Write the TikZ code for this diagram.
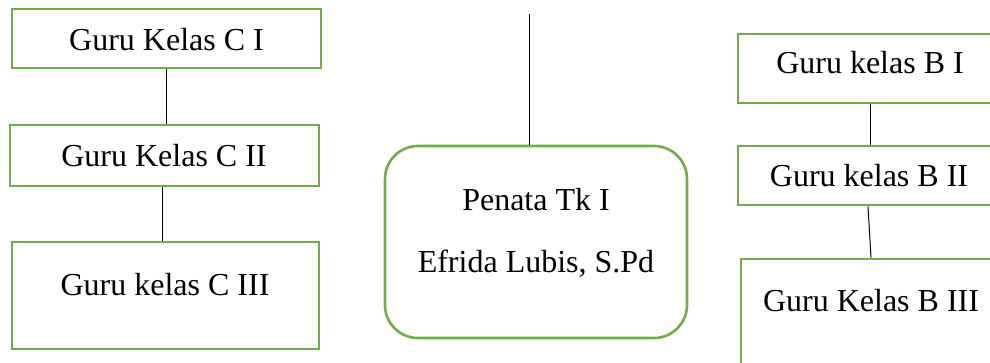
\documentclass[tikz,border=0pt]{standalone}
\usepackage{fontspec}
\setmainfont{Liberation Serif}
\definecolor{boxgreen}{HTML}{70AD47}
\begin{document}
\begin{tikzpicture}[x=1pt,y=-1pt,
  box/.style={draw=boxgreen,line width=2.6pt,minimum width=#1,inner sep=0pt},
  lbl/.style={anchor=base,font=\fontsize{32}{38}\selectfont,inner sep=0pt},
  link/.style={draw=black,line width=1pt}]
\useasboundingbox (0,0) rectangle (990,362);
\begin{scope}
\clip (0,0) rectangle (990,362);
% left column: class C teachers
\node[box=309pt,minimum height=59pt] (ci) at (166.5,38.5) {};
\node[box=309pt,minimum height=61pt] (cii) at (164.5,155.5) {};
\node[box=307pt,minimum height=107pt] (ciii) at (165.5,295.5) {};
\node[lbl] (tci) at (166.5,50) {Guru Kelas C I};
\node[lbl] (tcii) at (164,166) {Guru Kelas C II};
\node[lbl] (tciii) at (165,295) {Guru kelas C III};
\draw[link] (ci.south) -- (ci.south |- cii.north);
\draw[link] ([xshift=-2.5pt]cii.south) -- ([xshift=-2.5pt]cii.south |- ciii.north);
% centre: head of the group
\node[box=302pt,minimum height=192pt,rounded corners=33pt] (head) at (536,242) {};
\node[lbl] (thead1) at (536,210) {Penata Tk I};
\node[lbl] (thead2) at (536,272) {Efrida Lubis, S.Pd};
\coordinate (top) at (529,14);
\draw[link] (top) -- (top |- head.north);
% right column: class B teachers
\node[box=264pt,minimum height=69pt] (bi) at (870,68.5) {};
\node[box=264pt,minimum height=59pt] (bii) at (870,175.5) {};
\node[box=261pt,minimum height=140pt] (biii) at (871.5,329) {};
\node[lbl] (tbi) at (870,73) {Guru kelas B I};
\node[lbl] (tbii) at (869,186) {Guru kelas B II};
\node[lbl] (tbiii) at (871,311) {Guru Kelas B III};
\draw[link] (bi.south) -- (bi.south |- bii.north);
\draw[link] ([xshift=-2pt]bii.south) -- ([xshift=1pt]bii.south |- biii.north);
\end{scope}
\end{tikzpicture}
\end{document}
